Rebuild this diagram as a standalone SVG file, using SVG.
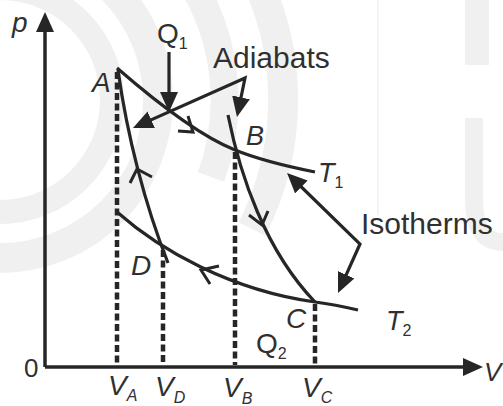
<svg xmlns="http://www.w3.org/2000/svg" width="503" height="406" viewBox="0 0 503 406">
  <defs>
    <marker id="ah" markerUnits="userSpaceOnUse" markerWidth="22" markerHeight="20" refX="10" refY="9" orient="auto-start-reverse">
      <path d="M0,0 L20,9 L0,18 Z" fill="#262626"/>
    </marker>
    <style>
      .wm { fill: none; stroke: #f0f0f0; }
      .ln { fill: none; stroke: #262626; stroke-width: 3.2; stroke-linejoin: miter; }
      .ax { fill: none; stroke: #262626; stroke-width: 3.5; }
      .dash { fill: none; stroke: #262626; stroke-width: 4.5; stroke-dasharray: 7 3.5; }
      .chev { fill: none; stroke: #262626; stroke-width: 3; stroke-linejoin: miter; }
      .t { font-family: "Liberation Sans", Arial, sans-serif; fill: #303030; }
      .i { font-style: italic; }
    </style>
  </defs>

  <g id="watermark">
    <path class="wm" d="M0,-12 A112,112 0 0 1 0,212" stroke-width="24"/>
    <path class="wm" d="M0,-58 A158,158 0 0 1 0,258" stroke-width="30"/>
    <path class="wm" d="M0,-125 A225,225 0 0 1 211,177" stroke-width="28"/>
    <path class="wm" d="M0,-183 A283,283 0 0 1 252,229" stroke-width="30"/>
    <line class="wm" x1="378" y1="0" x2="378" y2="215" stroke="#e8e8e8" stroke-width="1.5"/>
    <path class="wm" d="M477,0 V65" stroke-width="24"/>
    <path class="wm" d="M474,118 V200 Q474,242 503,242" stroke-width="18"/>
  </g>

  <g id="axes">
    <path class="ax" d="M45,367 V22" marker-end="url(#ah)"/>
    <path class="ax" d="M45,367 H473" marker-end="url(#ah)"/>
    <text class="t i" x="12" y="32" font-size="28">p</text>
    <text class="t" x="24" y="377" font-size="26">0</text>
    <text class="t i" x="484" y="381" font-size="26">V</text>
  </g>

  <g id="connectors">
    <path id="isotherm-T1" class="ln" d="M117,68 C140,88 195,134 235,150 C262,161 290,167 315,172"/>
    <path id="isotherm-T2" class="ln" d="M117,212 C160,250 230,290 315,302 C330,304 345,307 358,310"/>
    <path id="adiabat-AD" class="ln" d="M118,70 C127,135 145,205 168,263"/>
    <path id="adiabat-BC" class="ln" d="M228,115 C240,175 265,250 315,302"/>
    <path class="chev" d="M178,131 L193,132 L188,116"/>
    <path class="chev" d="M249,215 L262,225 L268,211"/>
    <path class="chev" d="M219,266 L201,270 L210,284"/>
    <path class="chev" d="M130,183 L137,169 L152,177"/>
    <path class="dash" d="M117,72 V365" stroke-width="6" stroke-dasharray="6 2.5"/>
    <path class="dash" d="M163,250 V365"/>
    <path class="dash" d="M235,152 V365"/>
    <path class="dash" d="M315,304 V365"/>
    <path class="ln" d="M169,52 V102" marker-end="url(#ah)"/>
    <path class="ln" d="M142.1,123.9 L245,78 L239,107.2" marker-start="url(#ah)" marker-end="url(#ah)"/>
    <path class="ln" d="M294.2,180 L360,244 L342.1,283.9" marker-start="url(#ah)" marker-end="url(#ah)"/>
  </g>

  <g id="node-A"><text class="t i" x="92" y="92" font-size="28">A</text></g>
  <g id="node-B"><text class="t i" x="246" y="145" font-size="27">B</text></g>
  <g id="node-C"><text class="t i" x="286" y="328" font-size="28">C</text></g>
  <g id="node-D"><text class="t i" x="131" y="275" font-size="28">D</text></g>

  <g id="label-Q1"><text class="t" x="157" y="43" font-size="28">Q<tspan font-size="16" dy="6">1</tspan></text></g>
  <g id="label-Q2"><text class="t" x="256" y="353" font-size="28">Q<tspan font-size="16" dy="6">2</tspan></text></g>
  <g id="label-T1"><text class="t i" x="318" y="182" font-size="27">T<tspan font-size="16" font-style="normal" dy="6">1</tspan></text></g>
  <g id="label-T2"><text class="t i" x="386" y="330" font-size="27">T<tspan font-size="16" font-style="normal" dy="6">2</tspan></text></g>
  <g id="label-adiabats"><text class="t" x="213" y="68" font-size="30">Adiabats</text></g>
  <g id="label-isotherms"><text class="t" x="361" y="234" font-size="30">Isotherms</text></g>

  <g id="v-labels">
    <text class="t i" x="108" y="395" font-size="28">V<tspan font-size="16" dy="6">A</tspan></text>
    <text class="t i" x="155" y="396" font-size="28">V<tspan font-size="16" dy="7">D</tspan></text>
    <text class="t i" x="223" y="397" font-size="28">V<tspan font-size="16" dy="7">B</tspan></text>
    <text class="t i" x="302" y="397" font-size="28">V<tspan font-size="16" dy="6">C</tspan></text>
  </g>
</svg>
